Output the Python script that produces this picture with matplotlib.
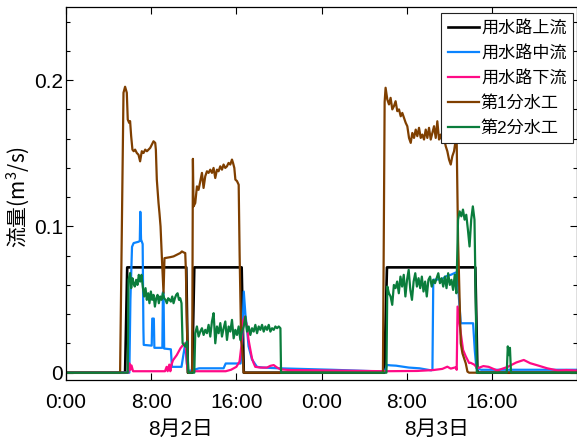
import numpy as np
import matplotlib.pyplot as plt
from matplotlib.ticker import MultipleLocator, FixedLocator
import matplotlib.transforms as mtransforms

plt.rcParams['font.family'] = ['Liberation Sans', 'Noto Sans CJK JP']
plt.rcParams['mathtext.fontset'] = 'custom'
plt.rcParams['mathtext.rm'] = 'Noto Sans CJK JP'

# time axis: hours from 8/2 0:00
XTICKS = [0, 8, 16, 24, 32, 40]
XTICKLABELS = ['0:00', '8:00', '16:00', '0:00', '8:00', '16:00']
DAYS = ['8月2日', '8月3日']
DAY_POS = [10.8, 34.8]
NAMES = ['用水路上流', '用水路中流', '用水路下流', '第1分水工', '第2分水工']
COLORS = ['#000000', '#0a84ff', '#ff0a86', '#7f3f00', '#0a7d3c']

# 用水路上流
up_t = [0, 5.55, 5.75, 11.3, 11.45, 11.85, 12.05, 16.5, 16.7, 29.9, 30.15, 38.45, 38.65, 48]
up_q = [0, 0, 0.072, 0.072, 0, 0, 0.072, 0.072, 0, 0, 0.072, 0.072, 0, 0]

# 用水路中流
mid_t = [0, 5.95, 6.05, 6.2, 6.35, 6.8, 6.93, 6.98, 7.05, 7.2, 7.27, 7.3, 8.05, 8.1, 8.25,
         8.3, 9.05, 9.1, 9.16, 9.22, 9.85, 9.95, 10.85, 11.0, 11.2, 11.35, 11.5, 12.0, 12.5,
         14.8, 15.0, 16.4, 16.55, 16.7, 16.85, 17.0, 17.15, 17.47, 17.94, 18.5, 20.0, 25.0,
         29.8, 29.95, 30.15, 30.5, 31.0, 32.2, 33.2, 34.3, 34.42, 34.5, 35.35, 35.67, 36.14,
         36.61, 36.76, 36.92, 37.08, 38.24, 38.4, 38.55, 39.0, 48]
mid_q = [0, 0, 0.05, 0.086, 0.0886, 0.0895, 0.09, 0.11, 0.091, 0.088, 0.03, 0.019, 0.0185,
         0.037, 0.037, 0.017, 0.017, 0.055, 0.055, 0.0165, 0.016, 0.004, 0.004, 0.011, 0.02,
         0.006, 0.001, 0.002, 0.003, 0.003, 0.0063, 0.0063, 0.02, 0.0555, 0.04, 0.03, 0.018,
         0.009, 0.004, 0.0035, 0.003, 0.002, 0.0008, 0.001, 0.0053, 0.005, 0.0048, 0.0035,
         0.003, 0.0016, 0.002, 0.0635, 0.064, 0.0658, 0.0669, 0.0685, 0.068, 0.05, 0.0338,
         0.0338, 0.015, 0.003, 0.002, 0.002]

# 用水路下流
down_t = [0, 5.85, 5.95, 6.05, 6.15, 6.3, 9.3, 9.45, 9.55, 9.7, 9.8, 9.9, 10.05, 10.4, 10.75,
          11.1, 11.25, 11.4, 11.55, 12.0, 15.0, 15.5, 16.0, 16.3, 16.5, 16.62, 16.8, 17.0,
          17.15, 17.31, 17.47, 17.63, 17.78, 18.26, 18.88, 19.2, 19.51, 19.83, 20.14, 21.0,
          25.0, 29.9, 33.0, 34.5, 35.35, 35.82, 36.14, 36.61, 36.7, 36.78, 37.08, 37.3, 37.55,
          37.87, 38.0, 38.35, 38.65, 39.2, 39.7, 40.5, 41.5, 42.3, 43.0, 43.6, 44.3, 45.2,
          46.2, 47.0, 48]
down_q = [0, 0, 0.0064, 0.002, 0.005, 0.001, 0.001, 0.004, 0.001, 0.0055, 0.001, 0.0053,
          0.0085, 0.012, 0.0167, 0.02, 0.018, 0.003, 0, 0.001, 0.001, 0.002, 0.004, 0.0076,
          0.02, 0.035, 0.0384, 0.0316, 0.0224, 0.016, 0.0098, 0.0065, 0.004, 0.0035, 0.0035,
          0.0047, 0.0052, 0.0035, 0.0023, 0.0018, 0.0015, 0.001, 0.0012, 0.0018, 0.0026,
          0.0041, 0.0028, 0.0037, 0.002, 0.0452, 0.0271, 0.0155, 0.0112, 0.0066, 0.0068,
          0.0055, 0.003, 0.0045, 0.004, 0.0015, 0.004, 0.007, 0.0087, 0.0065, 0.005, 0.003,
          0.0015, 0.0018, 0.0015]

# 第1分水工
b1_t = [0, 5.08, 5.4, 5.55, 5.71, 5.8, 5.93, 6.02, 6.12, 6.24, 6.36, 6.49, 6.65, 6.81, 6.96,
        7.12, 7.28, 7.44, 7.6, 7.75, 7.91, 8.07, 8.22, 8.38, 8.44, 8.53, 8.69, 8.78, 8.88, 9.0,
        9.16, 9.25, 9.5, 9.8, 10.1, 10.4, 10.73, 10.89, 11.05, 11.2, 11.26, 11.45, 11.85,
        11.92, 11.98, 12.14, 12.3, 12.45, 12.61, 12.77, 12.92, 13.08, 13.24, 13.39, 13.55,
        13.71, 13.86, 14.02, 14.18, 14.33, 14.49, 14.65, 14.8, 14.96, 15.12, 15.27, 15.43,
        15.59, 15.69, 15.81, 15.91, 16.06, 16.22, 16.31, 16.45, 16.53, 16.69, 29.77, 29.93,
        30.02, 30.18, 30.34, 30.49, 30.65, 30.81, 30.96, 31.12, 31.28, 31.44, 31.59, 31.75,
        31.91, 32.06, 32.22, 32.38, 32.53, 32.69, 32.85, 33.0, 33.16, 33.32, 33.47, 33.63,
        33.79, 33.94, 34.1, 34.26, 34.41, 34.57, 34.73, 34.88, 35.04, 35.2, 35.35, 35.51,
        35.67, 35.82, 35.98, 36.14, 36.29, 36.45, 36.61, 36.7, 36.83, 37.08, 37.24, 37.55,
        37.71, 37.87, 48]
b1_q = [0, 0, 0.1914, 0.1955, 0.1914, 0.1731, 0.1708, 0.172, 0.1617, 0.1525, 0.1514, 0.1525,
        0.1502, 0.149, 0.1445, 0.1514, 0.1502, 0.1525, 0.1514, 0.1525, 0.1537, 0.156, 0.1582,
        0.1571, 0.1525, 0.132, 0.116, 0.109, 0.1, 0.0795, 0.0544, 0.0783, 0.0786, 0.079,
        0.0795, 0.0806, 0.0818, 0.0829, 0.0822, 0.0818, 0.07, 0, 0, 0.1462, 0.1137, 0.116,
        0.1274, 0.125, 0.1309, 0.1366, 0.1263, 0.1343, 0.1377, 0.1366, 0.1388, 0.1366, 0.14,
        0.1331, 0.1388, 0.1377, 0.1411, 0.1388, 0.1423, 0.14, 0.1411, 0.1434, 0.1423, 0.1457,
        0.1434, 0.14, 0.132, 0.131, 0.1285, 0.08, 0.022, 0.018, 0, 0, 0.185, 0.1948, 0.1868,
        0.1834, 0.1879, 0.18, 0.1823, 0.1856, 0.1788, 0.18, 0.1753, 0.1776, 0.1742, 0.1708,
        0.1685, 0.1605, 0.1571, 0.1639, 0.1605, 0.1662, 0.1617, 0.1674, 0.1605, 0.1628,
        0.1594, 0.1662, 0.1605, 0.1674, 0.1594, 0.1639, 0.1685, 0.1605, 0.1719, 0.1594,
        0.1628, 0.1582, 0.1605, 0.1548, 0.1514, 0.1457, 0.1423, 0.148, 0.1514, 0.1594,
        0.1571, 0.09, 0.0201, 0.0132, 0.0064, 0.0007, 0, 0]

# 第2分水工
b2_t = [0, 5.8, 5.87, 6.02, 6.12, 6.24, 6.34, 6.46, 6.59, 6.71, 6.84, 6.96, 7.09, 7.21, 7.34,
        7.47, 7.59, 7.72, 7.84, 7.97, 8.09, 8.22, 8.35, 8.47, 8.6, 8.72, 8.85, 8.97, 9.1, 9.22,
        9.35, 9.47, 9.6, 9.73, 9.85, 9.98, 10.1, 10.23, 10.35, 10.48, 10.61, 10.73, 10.85,
        10.95, 11.2, 11.36, 11.5, 12.05]
b2_q = [0, 0, 0.0635, 0.0681, 0.0578, 0.0646, 0.0612, 0.0589, 0.0635, 0.06, 0.0669, 0.0623,
        0.0669, 0.0589, 0.0521, 0.0578, 0.0498, 0.0543, 0.0475, 0.0555, 0.0498, 0.0532,
        0.0452, 0.0509, 0.0532, 0.0475, 0.0521, 0.0498, 0.0543, 0.0509, 0.0498, 0.0475,
        0.0509, 0.0498, 0.0486, 0.0521, 0.0475, 0.0509, 0.0532, 0.0543, 0.0498, 0.0509,
        0.0475, 0.0202, 0.0178, 0.0213, 0, 0]
# 8/2 afternoon block, sampled evenly from 12.14 h to 20.14 h
b2_pm_q = [0.027, 0.0316, 0.0247, 0.0281, 0.0304, 0.0258, 0.0293, 0.027, 0.0327, 0.0247,
           0.035, 0.0407, 0.0201, 0.0316, 0.027, 0.0339, 0.0247, 0.0304, 0.035, 0.0224,
           0.0316, 0.0281, 0.0361, 0.0235, 0.0293, 0.0258, 0.0316, 0.0224, 0.0281, 0.0316,
           0.0384, 0.0281, 0.0316, 0.0258, 0.0304, 0.0281, 0.0327, 0.027, 0.0316, 0.0293,
           0.0327, 0.0281, 0.0316, 0.0293, 0.0327, 0.0281, 0.0304, 0.0293, 0.0316, 0.0304,
           0.0316, 0.0304]
b2_pm_t0, b2_pm_t1 = 12.14, 20.14
# 8/3 block, sampled evenly from 30.18 h to 38.37 h
b2_d2_q = [0.0589, 0.0543, 0.0521, 0.0464, 0.06, 0.0578, 0.0623, 0.0543, 0.0657, 0.0589,
           0.0669, 0.0521, 0.0635, 0.0703, 0.0566, 0.0498, 0.0623, 0.068, 0.0589, 0.0646,
           0.0578, 0.0657, 0.0555, 0.0623, 0.0521, 0.0635, 0.0657, 0.0589, 0.0635, 0.0612,
           0.0646, 0.068, 0.0612, 0.0646, 0.0589, 0.0657, 0.0578, 0.068, 0.06, 0.0635,
           0.0566, 0.0669, 0.0543, 0.1046, 0.1103, 0.1069, 0.1115, 0.1046, 0.108, 0.0978,
           0.0863, 0.1046, 0.1137, 0.1046]
b2_d2_t0, b2_d2_t1 = 30.18, 38.37
b2_end_t = [20.2, 30.1, 38.49, 38.59, 41.4, 41.5, 41.6, 41.7, 41.8, 48]
b2_end_q = [0, 0, 0.05, 0, 0, 0.018, 0.012, 0.017, 0, 0]

t2 = np.concatenate([b2_t, np.linspace(b2_pm_t0, b2_pm_t1, len(b2_pm_q)), [20.2, 30.1],
                     np.linspace(b2_d2_t0, b2_d2_t1, len(b2_d2_q)), b2_end_t[2:]])
q2 = np.concatenate([b2_q, b2_pm_q, [0, 0], b2_d2_q, b2_end_q[2:]])

fig = plt.figure(figsize=(5.77, 4.38), dpi=100)
ax = fig.add_axes([0.1144, 0.1324, 0.8856, 0.8516])

ax.plot(up_t, up_q, color=COLORS[0], lw=1.9, label=NAMES[0])
ax.plot(mid_t, mid_q, color=COLORS[1], lw=1.6, label=NAMES[1])
ax.plot(down_t, down_q, color=COLORS[2], lw=1.6, label=NAMES[2])
ax.plot(b1_t, b1_q, color=COLORS[3], lw=1.6, label=NAMES[3])
ax.plot(t2, q2, color=COLORS[4], lw=1.6, label=NAMES[4])

ax.set_xlim(0, 48)
ax.set_ylim(-0.005, 0.25)
ax.xaxis.set_major_locator(FixedLocator(XTICKS))
ax.set_xticklabels(XTICKLABELS)
ax.set_yticks([0, 0.1, 0.2])
ax.set_yticklabels(['0', '0.1', '0.2'])
ax.yaxis.set_minor_locator(MultipleLocator(0.02))
ax.tick_params(which='both', direction='in', top=True, right=True, labelsize=15, width=0.8)
ax.tick_params(which='major', length=5)
ax.tick_params(which='minor', length=3)
ax.tick_params(axis='x', pad=9)
ax.tick_params(axis='y', pad=2)
for s in ax.spines.values():
    s.set_linewidth(0.9)

ax.set_ylabel(r'$\mathrm{流量(m^{3}/s)}$', fontsize=15)
ax.yaxis.set_label_coords(-0.066, 0.49)

trans = mtransforms.blended_transform_factory(ax.transData, ax.transAxes)
for d, x in zip(DAYS, DAY_POS):
    ax.text(x, -0.133, d, transform=trans, ha='center', va='center', fontsize=15)

leg = ax.legend(loc='upper right', bbox_to_anchor=(0.993, 0.983), borderaxespad=0,
                fontsize=12.3, fancybox=False, framealpha=1, edgecolor='#222222',
                handlelength=1.85, handletextpad=0.1, labelspacing=0.53)
leg.get_frame().set_linewidth(0.8)

fig.savefig('out.png', dpi=100)
